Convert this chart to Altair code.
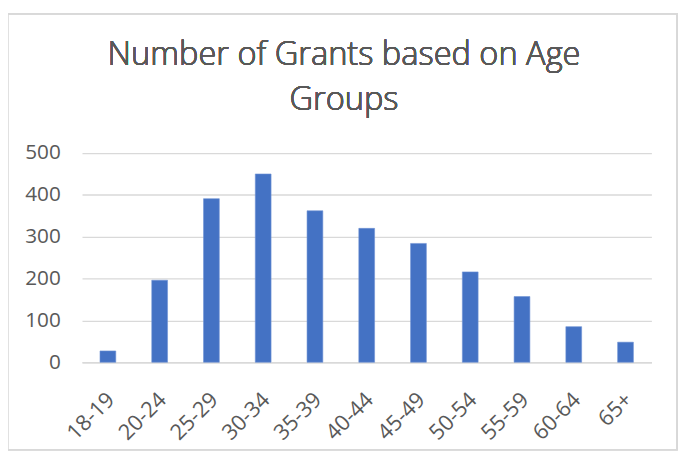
import altair as alt
import pandas as pd

age_groups = ["18-19", "20-24", "25-29", "30-34", "35-39", "40-44",
              "45-49", "50-54", "55-59", "60-64", "65+"]
grants = [27, 196, 391, 450, 362, 320, 284, 216, 157, 85, 48]
title_lines = ["Number of Grants based on Age", "Groups"]

df = pd.DataFrame({"age": age_groups, "grants": grants})

W, H = 577, 212
GRAY = "#595959"
LINE = "#D9D9D9"

bars = alt.Chart(df).mark_bar(color="#4472C4", stroke="#6F93D4", strokeWidth=0.6).encode(
    x=alt.X("age:N", sort=age_groups, title=None,
            scale=alt.Scale(paddingInner=0.695, paddingOuter=0.3475),
            axis=alt.Axis(labelAngle=-45, labelFontSize=22, labelColor=GRAY,
                          labelFont="Open Sans", ticks=False, labelPadding=27,
                          labelOffset=-4,
                          domainColor=LINE, domainWidth=1.3)),
    y=alt.Y("grants:Q", title=None,
            scale=alt.Scale(domain=[0, 500], nice=False),
            axis=alt.Axis(values=[0, 100, 200, 300, 400, 500], labelFontSize=21,
                          labelColor=GRAY, labelFont="Open Sans", ticks=False,
                          labelPadding=22, domain=False, gridColor=LINE,
                          gridWidth=1.3)),
)

border = alt.Chart(df).mark_rect(fill=None, stroke=LINE, strokeWidth=1.3, clip=False).encode(
    x=alt.value(-75.5), x2=alt.value(603),
    y=alt.value(-141), y2=alt.value(H + 88.5),
)

title1 = alt.Chart(df).mark_text(
    font="Open Sans", fontSize=33, fontWeight=300, color=GRAY, align="center",
    baseline="alphabetic"
).encode(x=alt.value(265.5), y=alt.value(-89), text=alt.value(title_lines[0]))

title2 = alt.Chart(df).mark_text(
    font="Open Sans", fontSize=33, fontWeight=300, color=GRAY, align="center",
    baseline="alphabetic"
).encode(x=alt.value(265.5), y=alt.value(-44), text=alt.value(title_lines[1]))

chart = alt.layer(border, bars, title1, title2).properties(
    width=W, height=H,
    autosize=alt.AutoSizeParams(type="none"),
    padding={"left": 75, "top": 144, "right": 30, "bottom": 92},
).configure_view(stroke=None)

chart.save("out.html", embed_options={"renderer": "svg", "actions": False})
